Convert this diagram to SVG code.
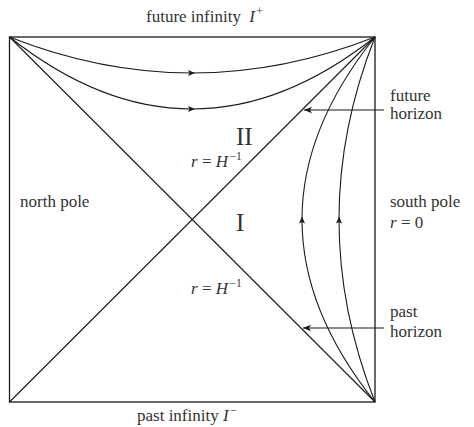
<svg xmlns="http://www.w3.org/2000/svg" width="474" height="427" viewBox="0 0 474 427">
<style>
.ln{fill:none;stroke:#1a1a1a;stroke-width:1.1}
.t{font-family:"Liberation Serif","Times New Roman",serif;font-size:17px;fill:#333}
.it{font-style:italic}
.sup{font-size:11.5px}
.big{font-size:25px}
</style>
<defs>
<marker id="mid" markerUnits="userSpaceOnUse" markerWidth="10" markerHeight="10" orient="auto" refX="0" refY="0" style="overflow:visible">
<path d="M3,0 L-4,-3 L-2.5,0 L-4,3 Z" fill="#1a1a1a"/>
</marker>
<marker id="end" markerUnits="userSpaceOnUse" markerWidth="10" markerHeight="10" orient="auto" refX="0" refY="0" style="overflow:visible">
<path d="M0,0 L-8,-3.2 L-6,0 L-8,3.2 Z" fill="#1a1a1a"/>
</marker>
</defs>
<g id="frame">
<rect class="ln" x="9.5" y="37" width="365.5" height="365" style="stroke-width:1.3"/>
</g>
<g id="connectors">
<line class="ln" x1="9.5" y1="37" x2="375" y2="402"/>
<line class="ln" x1="9.5" y1="402" x2="375" y2="37"/>
<path class="ln" d="M9.5,37 Q100.5,73 192,73 Q283.5,73 375,37" marker-mid="url(#mid)"/>
<path class="ln" d="M9.5,37 Q100.5,109 192,109 Q283.5,109 375,37" marker-mid="url(#mid)"/>
<path class="ln" d="M375,402 Q302,310.75 302,219.5 Q302,128.25 375,37" marker-mid="url(#mid)"/>
<path class="ln" d="M375,402 Q339,310.75 339,219.5 Q339,128.25 375,37" marker-mid="url(#mid)"/>
<line class="ln" x1="384" y1="110" x2="304" y2="110" marker-end="url(#end)"/>
<line class="ln" x1="384" y1="328" x2="303" y2="328" marker-end="url(#end)"/>
</g>
<g id="future-infinity"><text class="t" x="146" y="22">future infinity <tspan class="it" dx="4">I</tspan><tspan class="sup" dx="1.5" dy="-7">+</tspan></text></g>
<g id="past-infinity"><text class="t" x="137" y="421">past infinity <tspan class="it">I</tspan><tspan class="sup" dx="1.5" dy="-7">−</tspan></text></g>
<g id="north-pole"><text class="t" x="20" y="207">north pole</text></g>
<g id="south-pole"><text class="t" x="390" y="207">south pole</text><text class="t" x="390" y="228"><tspan class="it">r</tspan> = 0</text></g>
<g id="future-horizon"><text class="t" x="390" y="101">future</text><text class="t" x="390" y="119">horizon</text></g>
<g id="past-horizon"><text class="t" x="390" y="317">past</text><text class="t" x="390" y="337">horizon</text></g>
<g id="region-II"><text class="t big" x="236" y="145">II</text><text class="t" x="191" y="167"><tspan class="it">r</tspan> = <tspan class="it">H</tspan><tspan class="sup" dx="1.5" dy="-7">−1</tspan></text></g>
<g id="region-I"><text class="t big" x="236" y="231">I</text><text class="t" x="191" y="294"><tspan class="it">r</tspan> = <tspan class="it">H</tspan><tspan class="sup" dx="1.5" dy="-7">−1</tspan></text></g>
</svg>
